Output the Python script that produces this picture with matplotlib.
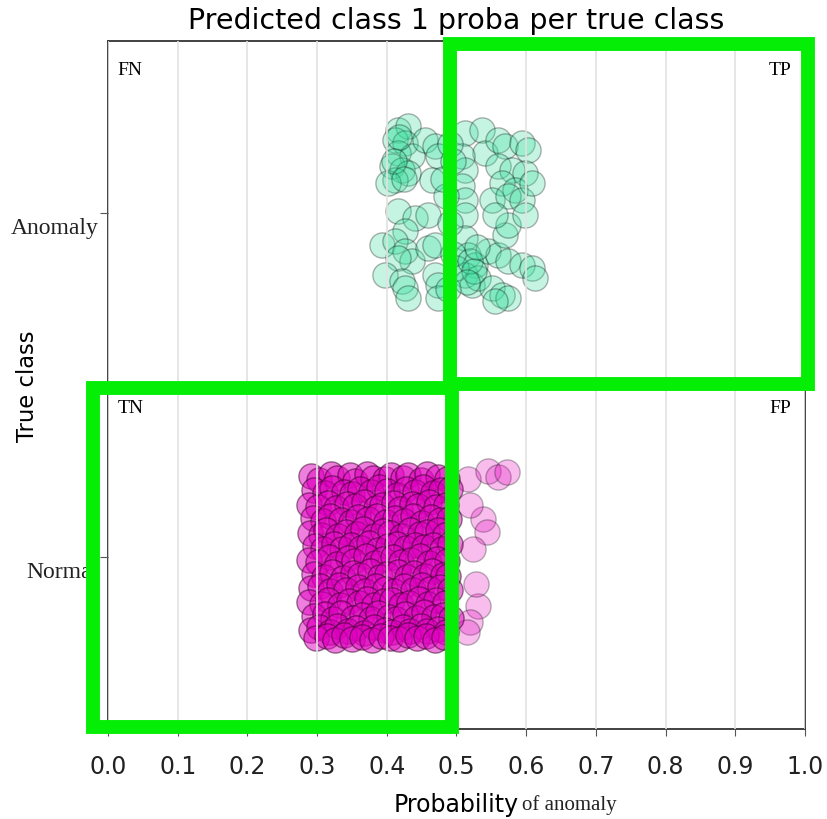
import matplotlib
matplotlib.use("Agg")
import matplotlib.pyplot as plt
import matplotlib.transforms as mtransforms
from matplotlib.patches import Rectangle

# class labels (Normal = 0, Anomaly = 1)
classes = ['Normal', 'Anomaly']

# predicted class-1 probability and strip jitter
anomaly_prob = [0.416, 0.430, 0.412, 0.426, 0.416, 0.436, 0.407, 0.422, 0.430, 0.412,
                0.402, 0.455, 0.469, 0.473, 0.465, 0.512, 0.537, 0.541, 0.560, 0.570,
                0.594, 0.603, 0.560, 0.580, 0.598, 0.565, 0.584, 0.551, 0.574, 0.594,
                0.608, 0.508, 0.512, 0.508, 0.512, 0.416, 0.440, 0.459, 0.426, 0.393,
                0.412, 0.426, 0.436, 0.416, 0.459, 0.469, 0.397, 0.422, 0.426, 0.430,
                0.469, 0.473, 0.473, 0.512, 0.512, 0.516, 0.527, 0.512, 0.522, 0.531,
                0.545, 0.560, 0.570, 0.574, 0.555, 0.598, 0.574, 0.594, 0.608, 0.613,
                0.551, 0.565, 0.574, 0.555, 0.490, 0.495, 0.485, 0.490, 0.495, 0.488,
                0.500, 0.480, 0.418, 0.410, 0.425, 0.520, 0.525, 0.515, 0.530]
anomaly_jitter = [0.241, 0.253, 0.212, 0.203, 0.174, 0.166, 0.137, 0.125, 0.116, 0.096,
                  0.087, 0.212, 0.195, 0.166, 0.096, 0.233, 0.241, 0.174, 0.212, 0.195,
                  0.203, 0.183, 0.137, 0.125, 0.116, 0.087, 0.067, 0.038, 0.049, 0.038,
                  0.087, 0.166, 0.125, 0.078, 0.038, 0.006, -0.015, -0.006, -0.052, -0.093,
                  -0.081, -0.110, -0.140, -0.131, -0.102, -0.093, -0.180, -0.198, -0.218, -0.247,
                  -0.180, -0.209, -0.247, -0.006, -0.073, -0.122, -0.151, -0.180, -0.209, -0.189,
                  -0.110, -0.122, -0.064, -0.035, -0.006, -0.006, -0.140, -0.151, -0.160, -0.189,
                  -0.218, -0.238, -0.247, -0.256, 0.200, 0.150, 0.050, -0.030, -0.120, -0.220,
                  -0.160, 0.100, 0.220, 0.150, 0.100, -0.140, -0.170, -0.200, -0.100]

# Normal class: the packed block below 0.5
normal_prob = [
    0.291, 0.303, 0.320, 0.329, 0.347, 0.355, 0.371, 0.380, 0.398, 0.406, 0.423, 0.431, 0.449, 0.458, 0.474, 0.487,
    0.296, 0.311, 0.322, 0.338, 0.350, 0.362, 0.377, 0.389, 0.401, 0.414, 0.427, 0.440, 0.452, 0.466, 0.478, 0.490,
    0.289, 0.302, 0.316, 0.327, 0.343, 0.354, 0.368, 0.384, 0.393, 0.410, 0.419, 0.436, 0.445, 0.461, 0.471, 0.485,
    0.294, 0.308, 0.319, 0.334, 0.348, 0.359, 0.373, 0.386, 0.399, 0.412, 0.425, 0.438, 0.451, 0.463, 0.476, 0.489,
    0.290, 0.306, 0.313, 0.330, 0.341, 0.357, 0.366, 0.381, 0.395, 0.405, 0.422, 0.433, 0.447, 0.457, 0.473, 0.484,
    0.297, 0.309, 0.324, 0.336, 0.349, 0.363, 0.375, 0.388, 0.402, 0.415, 0.428, 0.441, 0.454, 0.467, 0.479, 0.491,
    0.288, 0.301, 0.317, 0.328, 0.345, 0.353, 0.370, 0.383, 0.394, 0.409, 0.420, 0.435, 0.448, 0.460, 0.472, 0.486,
    0.295, 0.310, 0.321, 0.337, 0.351, 0.361, 0.376, 0.390, 0.400, 0.416, 0.429, 0.439, 0.455, 0.465, 0.480, 0.488,
    0.292, 0.304, 0.318, 0.332, 0.342, 0.358, 0.369, 0.385, 0.397, 0.411, 0.424, 0.437, 0.450, 0.462, 0.477, 0.490,
    0.289, 0.307, 0.315, 0.333, 0.346, 0.360, 0.372, 0.382, 0.396, 0.407, 0.421, 0.432, 0.446, 0.459, 0.470, 0.483,
    0.296, 0.312, 0.323, 0.335, 0.352, 0.364, 0.378, 0.387, 0.403, 0.413, 0.426, 0.442, 0.453, 0.468, 0.481, 0.492,
    0.291, 0.303, 0.319, 0.329, 0.344, 0.356, 0.367, 0.381, 0.398, 0.408, 0.423, 0.434, 0.449, 0.458, 0.474, 0.485,
    0.298, 0.314, 0.326, 0.339, 0.350, 0.365, 0.379, 0.391, 0.404, 0.418, 0.430, 0.443, 0.456, 0.469, 0.482]
normal_jitter = [
    0.236, 0.224, 0.240, 0.229, 0.238, 0.222, 0.241, 0.231, 0.226, 0.239, 0.230, 0.237, 0.225, 0.240, 0.233, 0.228,
    0.195, 0.186, 0.201, 0.190, 0.183, 0.198, 0.188, 0.204, 0.192, 0.181, 0.197, 0.189, 0.203, 0.185, 0.194, 0.199,
    0.152, 0.146, 0.158, 0.141, 0.155, 0.148, 0.160, 0.143, 0.151, 0.157, 0.140, 0.154, 0.147, 0.159, 0.144, 0.150,
    0.112, 0.104, 0.118, 0.107, 0.101, 0.115, 0.109, 0.120, 0.103, 0.113, 0.106, 0.119, 0.100, 0.116, 0.108, 0.111,
    0.071, 0.064, 0.078, 0.060, 0.074, 0.067, 0.080, 0.062, 0.076, 0.069, 0.061, 0.077, 0.066, 0.072, 0.079, 0.063,
    0.031, 0.024, 0.038, 0.022, 0.035, 0.027, 0.040, 0.021, 0.033, 0.039, 0.025, 0.036, 0.028, 0.034, 0.023, 0.037,
    -0.008, -0.015, 0.001, -0.019, -0.004, -0.012, 0.003, -0.017, -0.006, -0.001, -0.014, -0.009, 0.002, -0.018, -0.005, -0.011,
    -0.049, -0.057, -0.043, -0.060, -0.046, -0.053, -0.041, -0.058, -0.050, -0.044, -0.059, -0.047, -0.055, -0.042, -0.052, -0.056,
    -0.091, -0.084, -0.098, -0.081, -0.095, -0.087, -0.100, -0.083, -0.093, -0.099, -0.085, -0.096, -0.082, -0.094, -0.088, -0.097,
    -0.131, -0.138, -0.124, -0.141, -0.127, -0.135, -0.122, -0.139, -0.129, -0.125, -0.140, -0.133, -0.121, -0.137, -0.126, -0.134,
    -0.172, -0.165, -0.179, -0.162, -0.176, -0.168, -0.181, -0.163, -0.174, -0.180, -0.166, -0.177, -0.161, -0.175, -0.169, -0.178,
    -0.211, -0.204, -0.218, -0.201, -0.215, -0.207, -0.220, -0.203, -0.213, -0.219, -0.205, -0.216, -0.202, -0.214, -0.208, -0.217,
    -0.236, -0.230, -0.240, -0.227, -0.238, -0.232, -0.241, -0.229, -0.235, -0.239, -0.228, -0.237, -0.231, -0.240, -0.233]

# Normal class: the few stragglers past 0.5
normal_tail_prob = [0.516, 0.545, 0.560, 0.572, 0.538, 0.544, 0.524, 0.531, 0.519, 0.515, 0.528, 0.520]
normal_tail_jitter = [0.227, 0.250, 0.233, 0.247, 0.110, 0.073, 0.023, -0.142, -0.189, -0.218, -0.080, 0.150]

x_ticks = [0.0, 0.1, 0.2, 0.3, 0.4, 0.5, 0.6, 0.7, 0.8, 0.9, 1.0]

# highlight boxes (x0, y0, x1, y1) in data units
tp_box = (0.491, 0.503, 1.004, 1.491)
tn_box = (-0.0215, -0.494, 0.494, 0.491)

serif = 'Liberation Serif'

fig, ax = plt.subplots(figsize=(8.28, 8.2), dpi=100)
fig.subplots_adjust(left=0.1304, right=0.9722, top=0.9488, bottom=0.1098)

ax.scatter(normal_tail_prob, [0 + j for j in normal_tail_jitter], s=330,
           facecolor='#e610c0', edgecolor='k', linewidth=1, alpha=0.28, zorder=2)
ax.scatter(normal_prob, [0 + j for j in normal_jitter], s=330,
           facecolor='#e000c0', edgecolor='#300020', linewidth=1, alpha=0.5, zorder=2)
ax.scatter(anomaly_prob, [1 + j for j in anomaly_jitter], s=330,
           facecolor='#40e0a0', edgecolor='k', linewidth=1, alpha=0.3, zorder=2)

ax.set_xlim(0, 1)
ax.set_ylim(-0.5, 1.5)
ax.set_xticks(x_ticks)
ax.set_xticklabels([f'{t:.1f}' for t in x_ticks])
ax.set_yticks([0, 1])
ax.set_yticklabels(classes, family=serif, fontsize=17)
ax.tick_params(axis='x', labelsize=17, pad=13, length=5, color='#555', labelcolor='#222')
ax.tick_params(axis='y', pad=1, length=6, color='#555', labelcolor='#222')

# tick labels sit a bit below the tick marks
shift = mtransforms.ScaledTranslation(0, -0.12, fig.dpi_scale_trans)
for lbl in ax.get_yticklabels():
    lbl.set_transform(lbl.get_transform() + shift)

ax.grid(axis='x', color='#e2e2e2', lw=1.2, zorder=3)
ax.set_axisbelow(False)
for sp in ax.spines.values():
    sp.set_color('#333')
    sp.set_linewidth(1.3)

ax.set_title('Predicted class 1 proba per true class', fontsize=20.5, pad=9)
ax.set_xlabel('Probability', fontsize=17, labelpad=10)
ax.set_ylabel('True class', fontsize=16.3)
ax.yaxis.set_label_coords(-0.099, 0.50)
ax.annotate('of anomaly', xy=(1, 0), xycoords=ax.xaxis.label, xytext=(2, 1),
            textcoords='offset points', ha='left', va='bottom',
            family=serif, fontsize=15, color='#222')

# quadrant labels
ax.text(0.014, 0.971, 'FN', transform=ax.transAxes, family=serif, fontsize=14, va='top')
ax.text(0.98, 0.971, 'TP', transform=ax.transAxes, family=serif, fontsize=14, va='top', ha='right')
ax.text(0.014, 0.48, 'TN', transform=ax.transAxes, family=serif, fontsize=14, va='top')
ax.text(0.98, 0.48, 'FP', transform=ax.transAxes, family=serif, fontsize=14, va='top', ha='right')

for x0, y0, x1, y1 in (tp_box, tn_box):
    ax.add_patch(Rectangle((x0, y0), x1 - x0, y1 - y0, fill=False,
                           edgecolor='#05ee05', linewidth=10, joinstyle='miter',
                           clip_on=False, zorder=10))

fig.savefig('out.png', dpi=100)
